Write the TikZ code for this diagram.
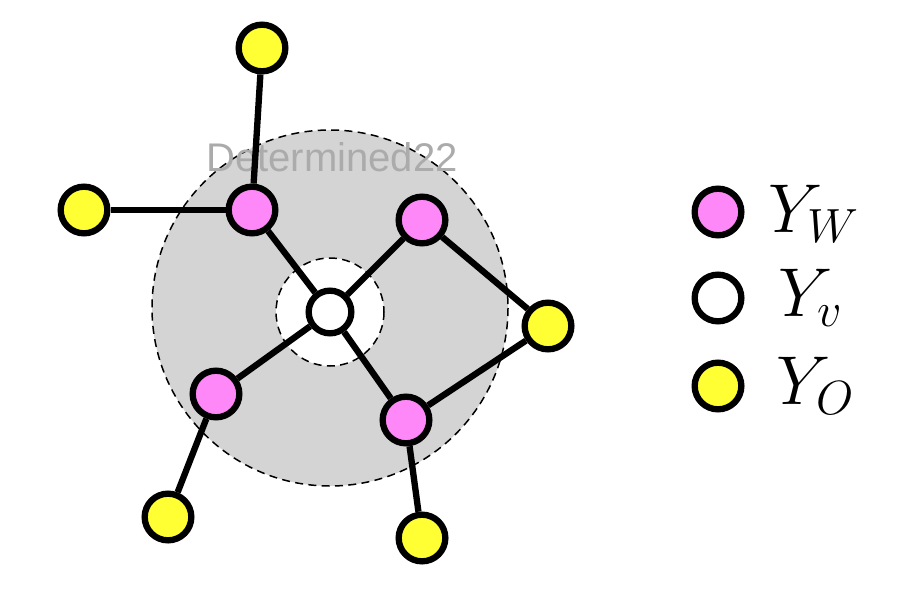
\documentclass[tikz,border=0pt]{standalone}
\usepackage{fontspec}
\newfontfamily\markfont{Liberation Sans}
\tikzset{
W/.style={draw=black, fill=wpink, circle, inner 
        sep=0pt, minimum size=14pt, line width=1.9pt},
V/.style={draw=black, fill=white, circle, inner 
        sep=0pt, minimum size=12.8pt, line width=1.9pt},
O/.style={draw=black, fill=oyellow, circle, inner 
        sep=0pt, minimum size=14pt, line width=1.9pt},
GraphLine/.style={draw=black,line width=1.9pt},
Region/.style={draw=black, dashed, line width=0.45pt, dash pattern=on 2.4pt off 1.6pt},
LegendText/.style={font=\fontsize{20}{24}\selectfont, anchor=center},
}
\definecolor{wpink}{HTML}{FF88F8}
\definecolor{oyellow}{HTML}{FFFF33}
\definecolor{regiongray}{HTML}{D4D4D4}

\begin{document}
\begin{tikzpicture}[x=0.3pt,y=-0.3pt]
	\useasboundingbox (0,0) rectangle (910,590);
	% neighbourhood regions
	\draw[Region, fill=regiongray] (330,308) circle [radius=178];
	\draw[Region, fill=white] (330,312) circle [radius=54];
	\node[text=black!33, font=\markfont\fontsize{12}{14}\selectfont] (mark) at (332,157) {Determined22};

	% graph
	\node[V] (v) at (330,312) {};
	\node[W] (w1) at (252,210) {};
	\node[W] (w2) at (422,220) {};
	\node[W] (w3) at (216,394) {};
	\node[W] (w4) at (406,420) {};
	\node[O] (o1) at (262,48) {};
	\node[O] (o2) at (84,210) {};
	\node[O] (o3) at (548,326) {};
	\node[O] (o4) at (168,517) {};
	\node[O] (o5) at (422,538) {};
	\foreach \w in {1,...,4}
		\draw[GraphLine] (v) -- (w\w);
	\draw[GraphLine] (w1) -- (o1);
	\draw[GraphLine] (w1) -- (o2);
	\draw[GraphLine] (w2) -- (o3);
	\draw[GraphLine] (o3) -- (w4);
	\draw[GraphLine] (w3) -- (o4);
	\draw[GraphLine] (w4) -- (o5);

	% legend
	\node[W] (lw) at (718,212) {};
	\node[V, minimum size=14pt] (lv) at (718,298) {};
	\node[O] (lo) at (718,386) {};
	\node[LegendText] (tw) at (814,214) {$Y_W$};
	\node[LegendText] (tv) at (811,298) {$Y_v$};
	\node[LegendText] (to) at (816,386) {$Y_O$};
\end{tikzpicture}
\end{document}
